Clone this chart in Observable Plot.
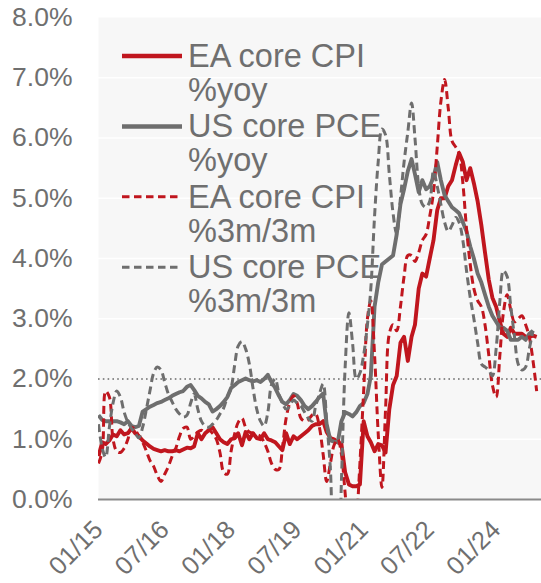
<!DOCTYPE html>
<html><head><meta charset="utf-8">
<script src="https://cdn.jsdelivr.net/npm/d3@7"></script>
<script src="https://cdn.jsdelivr.net/npm/@observablehq/plot@0.6"></script>
<style>
body{margin:0;background:#fff;}
#wrap{position:relative;width:541px;height:583px;font-family:"Liberation Sans",Arial,sans-serif;}
#legend{position:absolute;left:0;top:0;pointer-events:none;}
</style></head><body><div id="wrap"></div>
<script>
// Monthly data, Jan 2015 onward (% change)
const eaCoreYoy = [
  0.72,0.95,0.92,0.98,1.08,1.05,1.15,1.08,1.10,1.18,1.10,1.05,
  0.98,0.93,0.88,0.84,0.82,0.80,0.82,0.80,0.80,0.82,0.80,0.83,
  0.86,0.85,0.88,1.10,1.00,1.10,1.15,1.20,1.10,1.00,0.95,0.92,
  1.00,1.02,1.10,0.90,1.12,1.00,1.10,1.02,1.00,1.10,1.00,0.98,
  0.95,0.88,0.82,1.10,0.92,1.05,1.00,1.05,1.10,1.15,1.22,1.25,
  1.25,1.30,1.12,1.02,1.00,0.95,0.92,0.45,0.25,0.22,0.22,0.25,
  1.30,1.05,0.95,0.80,0.92,0.90,0.78,1.50,1.90,2.05,2.60,2.70,
  2.30,2.70,2.90,3.50,3.75,3.70,4.00,4.30,4.80,5.00,5.00,5.20,
  5.30,5.55,5.75,5.60,5.30,5.50,5.25,4.95,4.55,4.10,3.65,3.35,
  3.20,2.95,2.75,2.70,2.85,2.75,2.75,2.75,2.70,2.70,2.72,2.70
];
const usCorePceYoy = [
  1.40,1.32,1.30,1.30,1.30,1.30,1.28,1.25,1.30,1.22,1.20,1.22,
  1.46,1.50,1.54,1.57,1.60,1.62,1.65,1.68,1.72,1.75,1.78,1.80,
  1.87,1.90,1.82,1.72,1.68,1.62,1.58,1.46,1.50,1.55,1.62,1.70,
  1.85,1.90,1.95,1.98,2.01,1.98,1.96,1.98,1.95,2.00,2.07,1.95,
  1.85,1.72,1.62,1.58,1.65,1.75,1.72,1.65,1.55,1.50,1.55,1.62,
  1.70,1.76,1.25,0.98,0.96,0.95,1.30,1.45,1.42,1.38,1.45,1.55,
  1.60,1.75,2.05,3.20,3.60,3.90,3.95,4.00,4.05,4.40,4.90,5.15,
  5.45,5.65,5.40,5.10,5.30,5.15,5.20,5.35,5.60,5.30,5.05,4.95,
  4.85,4.80,4.75,4.60,4.45,4.20,4.00,3.75,3.60,3.40,3.20,3.05,
  2.95,2.85,2.85,2.80,2.65,2.65,2.65,2.70,2.65,2.75,2.80
];
const eaCore3m3m = [
  0.60,0.80,1.80,1.70,1.00,0.80,0.78,0.85,1.00,1.20,1.15,1.05,
  0.95,0.80,0.65,0.55,0.40,0.30,0.42,0.55,0.72,0.85,1.05,1.18,
  1.20,1.00,1.05,1.12,1.15,1.12,1.15,1.10,1.00,0.78,0.45,0.42,
  0.80,1.10,1.28,1.35,1.20,1.12,1.10,1.08,1.05,0.95,0.80,0.60,
  0.50,0.50,0.85,1.35,1.60,1.72,1.60,1.35,1.30,1.32,1.40,1.42,
  1.20,0.75,0.30,0.60,0.90,1.00,0.75,0.10,-0.60,-0.90,-0.40,0.60,
  1.80,3.00,3.30,2.40,1.10,0.20,1.50,2.75,2.90,2.80,3.20,3.70,
  4.05,4.05,3.95,4.10,4.30,4.40,4.70,5.10,5.85,6.60,6.97,6.50,
  5.95,5.85,5.75,5.25,4.50,3.90,3.50,3.30,3.20,2.90,2.40,1.90,
  1.70,2.40,3.10,3.40,3.15,2.95,3.00,3.05,2.90,2.70,2.30,1.80
];
const usCorePce3m3m = [
  1.25,0.85,0.70,1.20,1.60,1.80,1.70,1.45,1.28,1.18,1.10,1.02,
  1.20,1.50,1.80,2.10,2.20,2.15,1.95,1.75,1.62,1.50,1.42,1.37,
  1.40,1.60,1.75,1.50,1.30,1.22,1.20,1.25,1.32,1.42,1.52,1.70,
  1.85,2.25,2.55,2.62,2.50,2.25,1.85,1.50,1.30,1.22,1.45,1.90,
  2.00,1.75,1.60,1.50,1.55,1.65,1.60,1.55,1.45,1.35,1.30,1.55,
  1.75,1.92,1.30,0.50,-1.20,-1.50,0.30,2.20,3.10,2.60,2.00,2.10,
  2.40,2.90,3.50,4.70,5.60,6.15,6.05,5.40,4.75,4.40,5.00,5.60,
  6.10,6.58,6.00,5.20,4.90,4.85,4.95,5.45,5.20,4.90,4.60,4.45,
  4.55,4.68,4.60,4.30,3.80,3.35,3.00,2.60,2.25,2.20,2.15,2.05,
  2.50,3.30,3.80,3.70,3.20,2.70,2.25,2.15,2.20,2.50,2.80
];

const seriesNames = ["EA core CPI %yoy","US core PCE %yoy","EA core CPI %3m/3m","US core PCE %3m/3m"];
const seriesValues = [eaCoreYoy, usCorePceYoy, eaCore3m3m, usCorePce3m3m];
const legendLabels = [["EA core CPI","%yoy"],["US core PCE","%yoy"],["EA core CPI","%3m/3m"],["US core PCE","%3m/3m"]];
const yTicks = [0,1,2,3,4,5,6,7,8];
const gridValues = [1,3,4,5,6,7];
const targetLine = [2];
const xTickMonths = [0,18,36,54,72,90,108];

const colors = ["#c0161e","#6e6e6e","#c0161e","#6e6e6e"];
const widths = [3.9,3.9,3.0,3.0];
const dashes = [null,null,"8,4.5","8,4.5"];
const curves = ["linear","linear","catmull-rom","catmull-rom"];

const toDate = i => new Date(Date.UTC(2015, i, 1));
const rows = [];
seriesNames.forEach((name, k) => seriesValues[k].forEach((v, i) => rows.push({series: name, date: toDate(i), value: v})));

const chart = Plot.plot({
  width: 541, height: 583,
  marginLeft: 98, marginRight: 0, marginTop: 17, marginBottom: 84,
  style: {fontFamily: '"Liberation Sans", Arial, sans-serif', color: "#6f6f6f", background: "transparent", overflow: "visible"},
  x: {type: "utc", domain: [toDate(0), new Date(Date.UTC(2025, 0, 10))]},
  y: {domain: [0, 8]},
  marks: [
    Plot.frame({fill: "#f7f7f7", stroke: null}),
    Plot.ruleY(gridValues, {stroke: "#ffffff", strokeWidth: 1.5}),
    Plot.ruleY(targetLine, {stroke: "#6a6a6a", strokeWidth: 1.6, strokeDasharray: "1.6,3.2"}),
    ...seriesNames.map((name, k) => Plot.line(rows, {
      filter: d => d.series === name, x: "date", y: "value",
      stroke: colors[k], strokeWidth: widths[k], strokeDasharray: dashes[k] ?? undefined,
      curve: curves[k], clip: true, strokeLinejoin: "round", strokeLinecap: "butt"
    })),
    Plot.ruleY([0], {stroke: "#8a8a8a", strokeWidth: 2}),
    Plot.axisY(yTicks, {tickFormat: d => d.toFixed(1) + "%", tickSize: 0, tickPadding: 26, fontSize: 26.5, label: null}),
    Plot.axisX(xTickMonths.map(toDate), {tickFormat: d3.utcFormat("%m/%y"), tickSize: 0, tickPadding: 26, tickRotate: -45, fontSize: 25.5, label: null})
  ]
});
const wrap = document.getElementById("wrap");
wrap.appendChild(chart);

// Legend overlay
const leg = d3.select(wrap).append("svg").attr("id", "legend").attr("width", 541).attr("height", 583);
legendLabels.forEach((lines, k) => {
  const y0 = 56 + k * 70.4;
  leg.append("line").attr("x1", 122).attr("x2", 182).attr("y1", y0).attr("y2", y0)
    .attr("stroke", colors[k]).attr("stroke-width", k < 2 ? 4.5 : 3)
    .attr("stroke-dasharray", k < 2 ? null : "7.5,4.5");
  const t = leg.append("text").attr("font-size", 32.5).attr("fill", "#6f6f6f")
    .attr("font-family", '"Liberation Sans", Arial, sans-serif');
  lines.forEach((s, j) => t.append("tspan").attr("x", 188).attr("y", y0 + 11 + j * 34).text(s));
});
</script></body></html>
